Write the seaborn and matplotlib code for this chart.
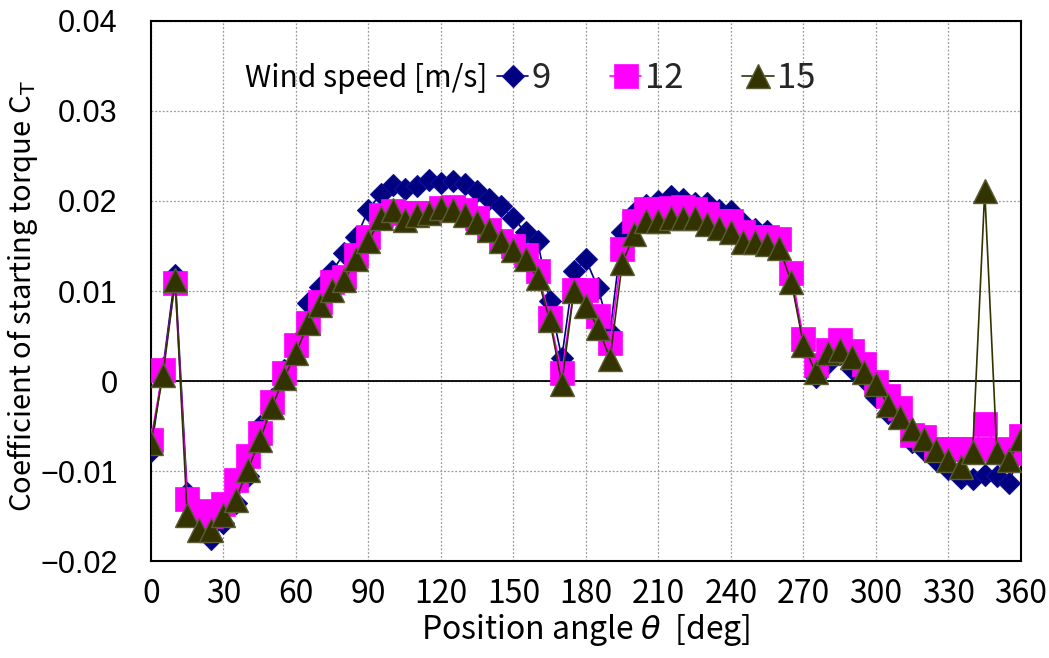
import numpy as np
import pandas as pd
import seaborn as sns
import matplotlib
matplotlib.use("Agg")
import matplotlib.pyplot as plt
from matplotlib import font_manager
from matplotlib.ticker import FuncFormatter

# ---------------- data ----------------
theta = list(range(0, 361, 5))

ct_9 = [-0.0078, 0.0015, 0.0118, -0.0124, -0.0155, -0.0176, -0.0158, -0.0135, -0.0105, -0.0050,
        -0.0020, 0.0012, 0.0042, 0.0087, 0.0104, 0.0122, 0.0142, 0.0160, 0.0190, 0.0208,
        0.0218, 0.0213, 0.0217, 0.0223, 0.0220, 0.0222, 0.0219, 0.0211, 0.0202, 0.0194,
        0.0181, 0.0165, 0.0155, 0.0089, 0.0026, 0.0122, 0.0135, 0.0103, 0.0055, 0.0165,
        0.0187, 0.0196, 0.0200, 0.0206, 0.0202, 0.0198, 0.0198, 0.0190, 0.0189, 0.0176,
        0.0169, 0.0167, 0.0158, 0.0112, 0.0044, 0.0004, 0.0020, 0.0030, 0.0013, 0.0002,
        -0.0018, -0.0035, -0.0041, -0.0068, -0.0077, -0.0088, -0.0098, -0.0108, -0.0109, -0.0104,
        -0.0105, -0.0113, -0.0078]

ct_12 = [-0.0065, 0.0012, 0.0109, -0.0131, -0.0144, -0.0150, -0.0137, -0.0110, -0.0083, -0.0058,
         -0.0023, 0.0009, 0.0040, 0.0064, 0.0088, 0.0110, 0.0116, 0.0140, 0.0160, 0.0184,
         0.0189, 0.0187, 0.0187, 0.0187, 0.0192, 0.0193, 0.0190, 0.0181, 0.0168, 0.0155,
         0.0150, 0.0140, 0.0122, 0.0070, 0.0009, 0.0101, 0.0101, 0.0072, 0.0042, 0.0147,
         0.0178, 0.0191, 0.0191, 0.0192, 0.0193, 0.0191, 0.0185, 0.0178, 0.0178, 0.0165,
         0.0160, 0.0160, 0.0158, 0.0120, 0.0047, 0.0018, 0.0035, 0.0046, 0.0033, 0.0019,
         -0.0001, -0.0017, -0.0030, -0.0060, -0.0062, -0.0075, -0.0075, -0.0075, -0.0075, -0.0048,
         -0.0075, -0.0080, -0.0061]

ct_15 = [-0.0069, 0.0007, 0.0112, -0.0149, -0.0166, -0.0166, -0.0149, -0.0132, -0.0099, -0.0066,
         -0.0029, 0.0003, 0.0031, 0.0064, 0.0084, 0.0101, 0.0112, 0.0136, 0.0155, 0.0181,
         0.0190, 0.0179, 0.0184, 0.0187, 0.0192, 0.0190, 0.0184, 0.0177, 0.0168, 0.0155,
         0.0146, 0.0135, 0.0114, 0.0068, -0.0003, 0.0100, 0.0083, 0.0059, 0.0025, 0.0131,
         0.0163, 0.0178, 0.0178, 0.0181, 0.0181, 0.0181, 0.0174, 0.0170, 0.0165, 0.0154,
         0.0154, 0.0152, 0.0148, 0.0110, 0.0040, 0.0010, 0.0031, 0.0035, 0.0027, 0.0010,
         -0.0003, -0.0027, -0.0040, -0.0053, -0.0064, -0.0077, -0.0088, -0.0095, -0.0079, 0.0211,
         -0.0079, -0.0088, -0.0064]

series_labels = ["9", "12", "15"]
x_ticks = list(range(0, 361, 30))
y_ticks = [-0.02, -0.01, 0.0, 0.01, 0.02, 0.03, 0.04]

# ---------------- fonts ----------------
sns.set_theme(style="white")
available = {f.name for f in font_manager.fontManager.ttflist}
narrow = "Liberation Sans Narrow" if "Liberation Sans Narrow" in available else "Noto Sans CJK JP"
plain = "Liberation Sans" if "Liberation Sans" in available else "DejaVu Sans"
plt.rcParams["font.family"] = ["Noto Sans CJK JP", "DejaVu Sans"]
plt.rcParams["axes.unicode_minus"] = True

fig = plt.figure(figsize=(10.49, 6.58), dpi=100)
ax = fig.add_axes([0.1439, 0.1474, 0.8294, 0.8207])

ax.axhline(0, color="black", lw=1.3, zorder=2)

styles = [
    dict(marker="D", color="#000080", markersize=11.5, markeredgecolor="#10109a", markeredgewidth=0.8, zorder=3),
    dict(marker="s", color="#FF00FF", markersize=17, markeredgecolor="#FF00FF", markeredgewidth=0.5, zorder=4),
    dict(marker="^", color="#333300", markersize=17, markeredgecolor="#5c5c38", markeredgewidth=1.0, zorder=5),
]
for vals, lab, st in zip([ct_9, ct_12, ct_15], series_labels, styles):
    df = pd.DataFrame({"theta": theta, "ct": vals})
    sns.lineplot(data=df, x="theta", y="ct", ax=ax, linewidth=1.2, label=lab, **st)

ax.set_xlim(0, 360)
ax.set_ylim(-0.02, 0.04)
ax.set_xticks(x_ticks)
ax.set_yticks(y_ticks)
ax.yaxis.set_major_formatter(FuncFormatter(
    lambda v, p: "0" if abs(v) < 1e-9 else f"{v:.2f}".replace("-", "\u2212")))

ax.grid(True, color="#9a9a9a", linestyle=(0, (1.5, 1.5)), linewidth=0.9, zorder=0)
for sp in ax.spines.values():
    sp.set_color("black")
    sp.set_linewidth(1.5)

ax.tick_params(axis="x", length=0, pad=12)
ax.tick_params(axis="y", length=0, pad=24)
for t in ax.get_xticklabels():
    t.set_fontfamily(narrow)
    t.set_fontsize(23)
    t.set_color("black")
for t in ax.get_yticklabels():
    t.set_fontfamily(plain)
    t.set_fontsize(22)
    t.set_color("black")

ax.set_xlabel("Position angle $\\theta$  [deg]", fontfamily=narrow, fontsize=23, color="black", labelpad=2)
ax.set_ylabel("Coefficient of starting torque C$_\\mathrm{T}$", fontsize=21, color="black")
ax.yaxis.set_label_coords(-0.127, 0.49)

ax.text(0.108, 0.894, "Wind speed [m/s]", transform=ax.transAxes, ha="left", va="center",
        fontfamily=narrow, fontsize=21.5, color="black", zorder=6)
leg = ax.legend(loc="center left", bbox_to_anchor=(0.398, 0.894), ncol=3, frameon=False,
                borderpad=0, borderaxespad=0, handlelength=0.9, handletextpad=0.1,
                columnspacing=1.7, prop={"family": narrow, "size": 25})

fig.savefig("out.png", dpi=100, facecolor="white")
